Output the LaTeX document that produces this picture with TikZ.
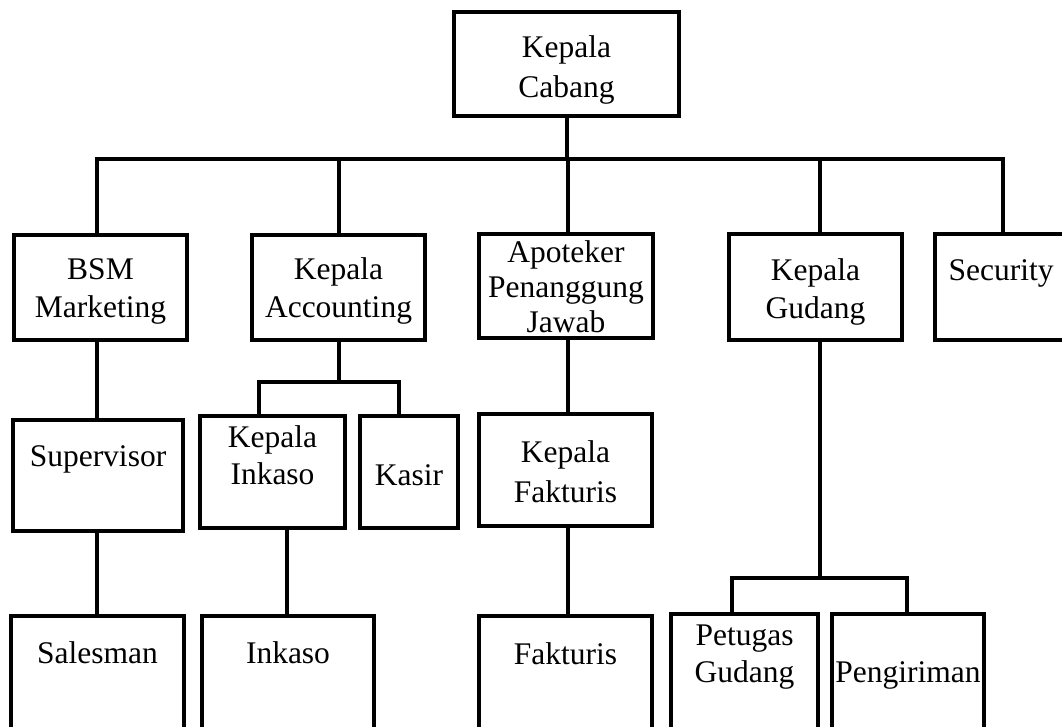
\documentclass[tikz,border=0pt]{standalone}
\usepackage{fontspec}
\setmainfont{Liberation Serif}
\newcommand{\bxtext}[5]{\parbox[c][#2pt][t]{#1pt}{\centering\fontsize{31.5}{#4pt}\selectfont\rule{0pt}{#3pt}#5}}
\begin{document}
\begin{tikzpicture}[x=1pt,y=-1pt,line width=3.5pt,
  orgbox/.style={draw=black,inner sep=0pt,outer sep=0pt,anchor=north west,line width=3.5pt}]
\useasboundingbox (0,0) rectangle (1062,726);
\fill[white] (0,0) rectangle (1062,726);
\clip (0,0) rectangle (1062,726);
% top
\node[orgbox] (cabang) at (454,12) {\bxtext{225}{104}{45}{40}{Kepala\\Cabang}};
% row 1
\node[orgbox] (bsm) at (14,235) {\bxtext{173}{105}{44}{38}{BSM\\Marketing}};
\node[orgbox] (acc) at (252,235) {\bxtext{173}{105}{44}{38}{Kepala\\Accounting}};
\node[orgbox] (apt) at (479,234) {\bxtext{174}{104}{28}{35}{Apoteker\\Penanggung\\Jawab}};
\node[orgbox] (gud) at (729,234) {\bxtext{173}{106}{46}{38}{Kepala\\Gudang}};
\node[orgbox] (sec) at (935,234) {\bxtext{132}{106}{46}{38}{Security}};
% row 2
\node[orgbox] (sup) at (13,420) {\bxtext{170}{111}{46}{38}{Supervisor}};
\node[orgbox] (kin) at (200,416) {\bxtext{145}{112}{31}{37}{Kepala\\Inkaso}};
\node[orgbox] (kas) at (360,416) {\bxtext{98}{112}{69}{37}{Kasir}};
\node[orgbox] (kfa) at (479,414) {\bxtext{173}{112}{48}{40}{Kepala\\Fakturis}};
% row 3
\node[orgbox] (sal) at (11,616) {\bxtext{173}{150}{47}{38}{Salesman}};
\node[orgbox] (ink) at (202,616) {\bxtext{172}{150}{47}{38}{Inkaso}};
\node[orgbox] (fak) at (479,616) {\bxtext{173}{150}{48}{38}{Fakturis}};
\node[orgbox] (pet) at (671,614) {\bxtext{147}{150}{31}{37}{Petugas\\Gudang}};
\node[orgbox] (pen) at (832,614) {\bxtext{152}{150}{68}{37}{Pengiriman}};
% junction coordinates
\coordinate (bL) at (97,159);
\coordinate (bR) at (1003,159);
\coordinate (bC) at (567,159);
\coordinate (bA) at (339,159);
\coordinate (bP) at (568,159);
\coordinate (bG) at (820,159);
\coordinate (jA) at (339,382);
\coordinate (kL) at (259,382);
\coordinate (kR) at (399,382);
\coordinate (iX) at (287,500);
\coordinate (gJ) at (820,578);
\coordinate (gL) at (732,578);
\coordinate (gR) at (907,578);
% connectors
\draw (cabang.south -| bC) -- (bC);
\draw (bsm.north -| bL) -- (bL) -- (bR) -- (sec.north -| bR);
\draw (bA) -- (acc.north -| bA);
\draw (bP) -- (apt.north -| bP);
\draw (bG) -- (gud.north -| bG);
\draw (bsm.south -| bL) -- (sup.north -| bL);
\draw (sup.south -| bL) -- (sal.north -| bL);
\draw (acc.south -| jA) -- (jA);
\draw (kin.north -| kL) -- (kL) -- (kR) -- (kas.north -| kR);
\draw (kin.south -| iX) -- (ink.north -| iX);
\draw (apt.south -| bP) -- (kfa.north -| bP);
\draw (kfa.south -| bP) -- (fak.north -| bP);
\draw (gud.south -| gJ) -- (gJ);
\draw (pet.north -| gL) -- (gL) -- (gR) -- (pen.north -| gR);
\end{tikzpicture}
\end{document}
